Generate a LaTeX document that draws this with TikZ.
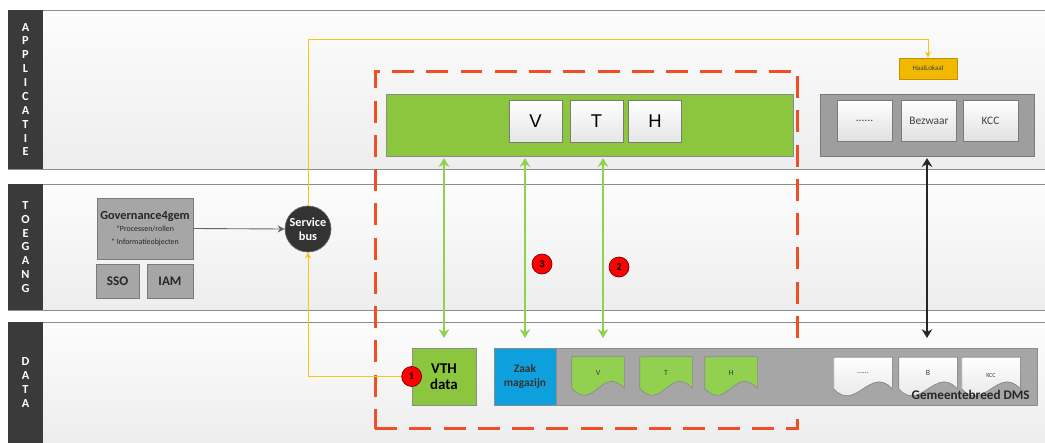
\documentclass[tikz,border=0pt]{standalone}
\usepackage{fontspec}
\setmainfont{Carlito}
\newfontfamily\arialfont{Liberation Sans}
\usetikzlibrary{arrows.meta,calc}

\definecolor{lanebar}{HTML}{3A3A3A}
\definecolor{laneline}{HTML}{8C8C8C}
\definecolor{vthgreen}{HTML}{8CC63F}
\definecolor{arrowgreen}{HTML}{92D050}
\definecolor{zaakblue}{HTML}{0EA0DC}
\definecolor{boxgray}{HTML}{A6A6A6}
\definecolor{boxedge}{HTML}{7A7A7A}
\definecolor{haalorange}{HTML}{F2B800}
\definecolor{busyellow}{HTML}{F5C518}
\definecolor{scopered}{HTML}{F04E23}

% document symbol with a wavy bottom, drawn round a named node
\newcommand{\docshape}[2]{%
  \filldraw[#2] (#1.south west) -- (#1.north west) -- (#1.north east) -- (#1.south east)
    .. controls +(-22,-24) and +(22,24) .. (#1.south west) -- cycle;}

\begin{document}
\begin{tikzpicture}[x=0.02cm, y=-0.02cm,
		lane/.style={rectangle, draw=laneline, top color=black!1, bottom color=black!7, minimum width=20.84cm, inner sep=0pt, outer sep=0pt},
		lanebar/.style={rectangle, fill=lanebar, minimum width=0.7cm, inner sep=0pt, outer sep=0pt, text=white, align=center, font=\fontsize{7}{7.9}\selectfont\bfseries},
		graybox/.style={rectangle, draw=boxedge, fill=boxgray, inner sep=0pt, align=center, text=black!85, font=\fontsize{7.5}{8}\selectfont\bfseries},
		lightbox/.style={rectangle, draw=boxedge, top color=white, bottom color=black!12, minimum width=1.1cm, minimum height=0.82cm, inner sep=0pt, text=black!75, font=\fontsize{6.5}{8}\selectfont},
		letterbox/.style={rectangle, draw=boxedge, top color=white, bottom color=black!10, minimum width=1.06cm, minimum height=0.84cm, inner sep=0pt, font=\arialfont\fontsize{10.5}{12}\selectfont},
		doc/.style={rectangle, inner sep=0pt, minimum height=0.62cm, minimum width=1.04cm, text=black!75, font=\fontsize{4.5}{5}\selectfont},
		marker/.style={circle, draw=red!45!black, fill=red, minimum size=0.4cm, inner sep=0pt, font=\fontsize{6}{6}\selectfont\bfseries},
		flow/.style={{Stealth[length=5pt,width=6pt]}-{Stealth[length=5pt,width=6pt]}, line width=1.1pt, arrowgreen, shorten >=5\pgflinewidth, shorten <=1pt},
		busline/.style={-{Stealth[length=3.5pt,width=3.5pt]}, busyellow, line width=0.5pt}
		]
		
		\useasboundingbox (0,0) rectangle (1045,443);
		
		\node[lane, minimum height=3.18cm] (applane) at (529,89.5) {};
		\node[lane, minimum height=2.52cm] (toelane) at (529,247) {};
		\node[lane, minimum height=2.42cm] (datalane) at (529,382.5) {};
		\node[lanebar, minimum height=3.18cm] (appbar) at (25.5,89.5) {A\\P\\P\\L\\I\\C\\A\\T\\I\\E};
		\node[lanebar, minimum height=2.52cm] (toebar) at (25.5,247) {T\\O\\E\\G\\A\\N\\G};
		\node[lanebar, minimum height=2.42cm] (databar) at (25.5,382.5) {D\\A\\T\\A};
		
		\node[rectangle, draw=scopered, line width=1.7pt, dash pattern=on 12.5pt off 7pt, minimum width=8.46cm, minimum height=7.16cm, inner sep=0pt] (vthscope) at (586.5,250) {};
		
		% toegang
		\node[graybox, minimum width=1.92cm, minimum height=1.22cm] (gov) at (145,228.5) {{\fontsize{7}{8}\selectfont Governance4gem}\\[-1pt]{\fontsize{4.5}{5}\selectfont\mdseries *Processen/rollen}\\[-1pt]{\fontsize{4.5}{5}\selectfont\mdseries * Informatieobjecten}};
		\node[graybox, minimum width=0.86cm, minimum height=0.68cm] (sso) at (117.5,281) {SSO};
		\node[graybox, minimum width=0.92cm, minimum height=0.68cm] (iam) at (170,281) {IAM};
		\node[circle, fill=black!80, draw=black!60, minimum size=0.92cm, inner sep=0pt, text=white, align=center, font=\fontsize{7}{8}\selectfont\bfseries] (sbus) at (308,229) {Service\\bus};
		
		% applicatie
		\node[rectangle, draw=black!45, fill=vthgreen, minimum width=8.14cm, minimum height=1.24cm, inner sep=0pt] (vthapp) at (589.5,125) {};
		\node[letterbox] (appv) at (535.5,121) {V};
		\node[letterbox] (appt) at (596.5,121) {T};
		\node[letterbox] (apph) at (655,121) {H};
		\node[rectangle, draw=boxedge, fill=black!38, minimum width=4.28cm, minimum height=1.24cm, inner sep=0pt] (otherapp) at (927,125) {};
		\node[lightbox] (appdots) at (864.5,120.5) {......};
		\node[lightbox] (bezwaar) at (929,120.5) {Bezwaar};
		\node[lightbox] (appkcc) at (990.5,120.5) {KCC};
		\node[rectangle, draw=haalorange!80!black, fill=haalorange, minimum width=1.16cm, minimum height=0.42cm, inner sep=0pt, text=black!75, font=\fontsize{4}{5}\selectfont] (haal) at (928,68.5) {HaalLokaal};
		
		% data
		\node[rectangle, draw=black!45, fill=vthgreen, minimum width=1.28cm, minimum height=1.14cm, inner sep=0pt, align=center, font=\fontsize{8.5}{9}\selectfont\bfseries] (vthdata) at (444,376.5) {VTH\\data};
		\node[rectangle, draw=black!45, fill=zaakblue, minimum width=1.24cm, minimum height=1.14cm, inner sep=0pt, align=center, text=black!80, font=\fontsize{6.5}{7.5}\selectfont\bfseries] (zaak) at (525,376.5) {Zaak\\magazijn};
		\node[rectangle, draw=black!45, fill=boxgray, minimum width=9.62cm, minimum height=1.14cm, inner sep=0pt] (dms) at (796.5,376.5) {};
		\node[doc] (docv) at (598,372.5) {};
		\node[doc] (doct) at (666,372.5) {};
		\node[doc] (doch) at (731,372.5) {};
		\node[doc, minimum width=1.16cm] (docdots) at (863,373) {};
		\node[doc, minimum width=1.16cm] (docb) at (928,373) {};
		\node[doc, minimum width=1.16cm] (dockcc) at (991,373) {};
		\docshape{docv}{fill=arrowgreen, draw=black!45}
		\docshape{doct}{fill=arrowgreen, draw=black!45}
		\docshape{doch}{fill=arrowgreen, draw=black!45}
		\docshape{docdots}{top color=white, bottom color=black!12, draw=black!45}
		\docshape{docb}{top color=white, bottom color=black!12, draw=black!45}
		\docshape{dockcc}{top color=white, bottom color=black!12, draw=black!45}
		\node[doc] at (docv) {V};
		\node[doc] at (doct) {T};
		\node[doc] at (doch) {H};
		\node[doc] at (docdots) {......};
		\node[doc] at (docb) {B};
		\node[doc, anchor=north] at ([yshift=-0.06cm]dockcc.north) {\fontsize{3.5}{4}\selectfont KCC};
		\node[anchor=base east, inner sep=0pt, text=black!85, font=\fontsize{7.5}{8}\selectfont\bfseries] (dmslabel) at (1030,399) {Gemeentebreed DMS};
		
		% connections
		\draw[busline] (sbus.north) |- (928,39) -- (haal.north);
		\draw[busline] (vthdata.west) -| (sbus.south);
		\draw[-{Stealth[length=4pt,width=4pt]}, black!60, line width=0.5pt] (gov.east) -- (sbus.west);
		\draw[flow] (vthapp.south -| vthdata.north) -- (vthdata.north);
		\draw[flow] (vthapp.south -| zaak.north) -- (zaak.north);
		\draw[flow] (vthapp.south -| 603,0) -- (dms.north -| 603,0);
		\draw[flow, black!85] (otherapp.south) -- (dms.north -| otherapp.south);
		
		\node[marker] (m1) at (vthdata.west) {1};
		\node[marker] (m3) at (542,264) {3};
		\node[marker] (m2) at (619,267) {2};
		
	\end{tikzpicture}
\end{document}
